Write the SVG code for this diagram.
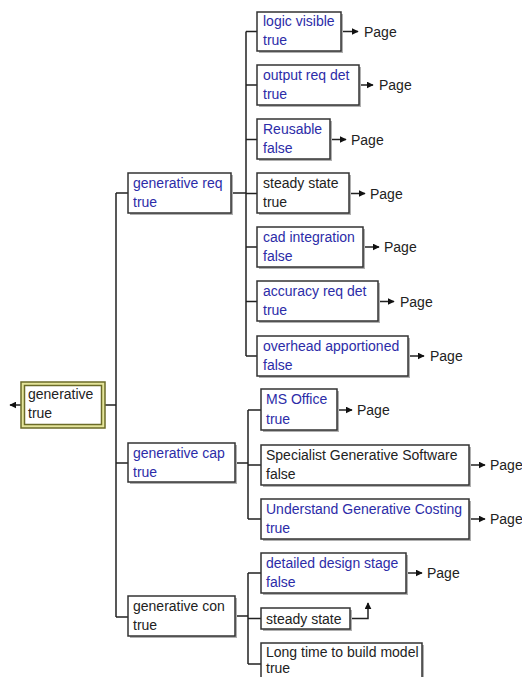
<svg xmlns="http://www.w3.org/2000/svg" width="522" height="677" viewBox="0 0 522 677">
<style>
.bx{fill:#fff;stroke:#333;stroke-width:1.5}
.sh{fill:#b0b0b0}
.t{font-family:"Liberation Sans",Arial,sans-serif;font-size:14px}
.b{fill:#2c2ca8}
.k{fill:#222}
.c{fill:none;stroke:#222;stroke-width:1.5}
</style>
<defs>
<marker id="ah" viewBox="0 0 10 10" refX="9" refY="5" markerWidth="7" markerHeight="7" markerUnits="userSpaceOnUse" orient="auto"><path d="M0,0 L10,5 L0,10 z" fill="#111"/></marker>
</defs>
<rect width="522" height="677" fill="#fff"/>
<g id="connectors">
<path class="c" d="M21,405 H10" marker-end="url(#ah)"/>
<path class="c" d="M105,405 H116 M116,193 V617 M116,193 H128 M116,463 H128 M116,617 H128"/>
<path class="c" d="M231,193 H246 M246,31.5 V356 M246,31.5 H257 M246,85 H257 M246,139.5 H257 M246,193.5 H257 M246,247 H257 M246,301.5 H257 M246,356 H257"/>
<path class="c" d="M235,463 H248 M248,410 V519 M248,410 H261 M248,465 H261 M248,519 H261"/>
<path class="c" d="M235,616 H248 M248,573 V664 M248,573 H261 M248,618.5 H261 M248,664 H261"/>
<path class="c" d="M341,31.5 H358" marker-end="url(#ah)"/>
<path class="c" d="M359,85 H373" marker-end="url(#ah)"/>
<path class="c" d="M330,139.5 H346" marker-end="url(#ah)"/>
<path class="c" d="M349,193.5 H365" marker-end="url(#ah)"/>
<path class="c" d="M363,247 H379" marker-end="url(#ah)"/>
<path class="c" d="M378,301.5 H394" marker-end="url(#ah)"/>
<path class="c" d="M408,356 H424" marker-end="url(#ah)"/>
<path class="c" d="M337,410 H352" marker-end="url(#ah)"/>
<path class="c" d="M469,465 H485" marker-end="url(#ah)"/>
<path class="c" d="M469,519 H485" marker-end="url(#ah)"/>
<path class="c" d="M406,573 H422" marker-end="url(#ah)"/>
<path class="c" d="M350,618.5 H368 V603" marker-end="url(#ah)"/>
</g>
<g class="t k">
<text x="364" y="37">Page</text>
<text x="379" y="90">Page</text>
<text x="351" y="145">Page</text>
<text x="370" y="199">Page</text>
<text x="384" y="252">Page</text>
<text x="400" y="307">Page</text>
<text x="430" y="361">Page</text>
<text x="357" y="415">Page</text>
<text x="490" y="470">Page</text>
<text x="490" y="524">Page</text>
<text x="427" y="578">Page</text>
</g>
<g id="root">
<rect x="21" y="382" width="84" height="46" fill="#e4e49a" stroke="#6b6b28" stroke-width="1.5"/>
<rect x="24.5" y="385.5" width="77" height="39" fill="#fff" stroke="#6b6b28" stroke-width="1.5"/>
<text class="t k" x="28" y="399">generative</text>
<text class="t k" x="28" y="418">true</text>
</g>
<g id="gen-req">
<rect class="sh" x="130" y="175" width="103" height="40"/>
<rect class="bx" x="128" y="173" width="103" height="40"/>
<text class="t b" x="133" y="188">generative req</text>
<text class="t b" x="133" y="207">true</text>
</g>
<g id="gen-cap">
<rect class="sh" x="130" y="445" width="107" height="39"/>
<rect class="bx" x="128" y="443" width="107" height="39"/>
<text class="t b" x="133" y="458">generative cap</text>
<text class="t b" x="133" y="477">true</text>
</g>
<g id="gen-con">
<rect class="sh" x="130" y="598" width="107" height="40"/>
<rect class="bx" x="128" y="596" width="107" height="40"/>
<text class="t k" x="133" y="611">generative con</text>
<text class="t k" x="133" y="630">true</text>
</g>
<g id="logic-visible">
<rect class="sh" x="259" y="14" width="84" height="39"/>
<rect class="bx" x="257" y="12" width="84" height="39"/>
<text class="t b" x="263" y="26">logic visible</text>
<text class="t b" x="263" y="45">true</text>
</g>
<g id="output-req-det">
<rect class="sh" x="259" y="67" width="102" height="40"/>
<rect class="bx" x="257" y="65" width="102" height="40"/>
<text class="t b" x="263" y="80">output req det</text>
<text class="t b" x="263" y="99">true</text>
</g>
<g id="reusable">
<rect class="sh" x="259" y="121" width="73" height="40"/>
<rect class="bx" x="257" y="119" width="73" height="40"/>
<text class="t b" x="263" y="134">Reusable</text>
<text class="t b" x="263" y="153">false</text>
</g>
<g id="steady-state-1">
<rect class="sh" x="259" y="175" width="92" height="40"/>
<rect class="bx" x="257" y="173" width="92" height="40"/>
<text class="t k" x="263" y="188">steady state</text>
<text class="t k" x="263" y="207">true</text>
</g>
<g id="cad-integration">
<rect class="sh" x="259" y="229" width="106" height="40"/>
<rect class="bx" x="257" y="227" width="106" height="40"/>
<text class="t b" x="263" y="242">cad integration</text>
<text class="t b" x="263" y="261">false</text>
</g>
<g id="accuracy-req-det">
<rect class="sh" x="259" y="283" width="121" height="40"/>
<rect class="bx" x="257" y="281" width="121" height="40"/>
<text class="t b" x="263" y="296">accuracy req det</text>
<text class="t b" x="263" y="315">true</text>
</g>
<g id="overhead-apportioned">
<rect class="sh" x="259" y="338" width="151" height="40"/>
<rect class="bx" x="257" y="336" width="151" height="40"/>
<text class="t b" x="263" y="351">overhead apportioned</text>
<text class="t b" x="263" y="370">false</text>
</g>
<g id="ms-office">
<rect class="sh" x="263" y="391" width="76" height="41"/>
<rect class="bx" x="261" y="389" width="76" height="41"/>
<text class="t b" x="266" y="404">MS Office</text>
<text class="t b" x="266" y="424">true</text>
</g>
<g id="specialist">
<rect class="sh" x="263" y="447" width="208" height="40"/>
<rect class="bx" x="261" y="445" width="208" height="40"/>
<text class="t k" x="266" y="460">Specialist Generative Software</text>
<text class="t k" x="266" y="479">false</text>
</g>
<g id="understand">
<rect class="sh" x="263" y="501" width="208" height="40"/>
<rect class="bx" x="261" y="499" width="208" height="40"/>
<text class="t b" x="266" y="514">Understand Generative Costing</text>
<text class="t b" x="266" y="533">true</text>
</g>
<g id="detailed-design">
<rect class="sh" x="263" y="555" width="145" height="40"/>
<rect class="bx" x="261" y="553" width="145" height="40"/>
<text class="t b" x="266" y="568">detailed design stage</text>
<text class="t b" x="266" y="587">false</text>
</g>
<g id="steady-state-2">
<rect class="sh" x="263" y="610" width="89" height="21"/>
<rect class="bx" x="261" y="608" width="89" height="21"/>
<text class="t k" x="266" y="624">steady state</text>
</g>
<g id="long-time">
<rect class="sh" x="263" y="645" width="161" height="42"/>
<rect class="bx" x="261" y="643" width="161" height="42"/>
<text class="t k" x="266" y="657">Long time to build model</text>
<text class="t k" x="266" y="673">true</text>
</g>
</svg>
